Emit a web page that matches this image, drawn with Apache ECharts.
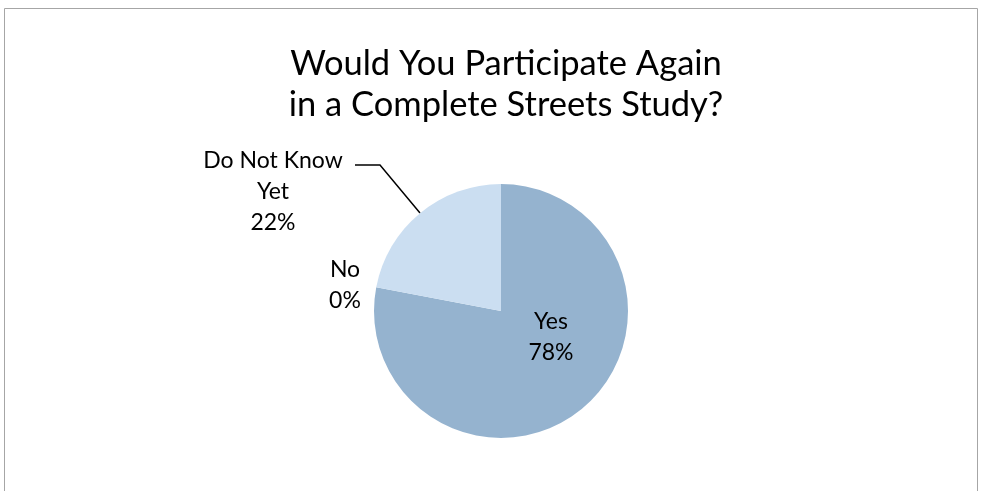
<!DOCTYPE html>
<html><head><meta charset="utf-8">
<script src="https://cdn.jsdelivr.net/npm/echarts@6/dist/echarts.min.js"></script>
<style>html,body{margin:0;padding:0;background:#fff}#c{width:982px;height:491px}</style>
</head><body><div id="c"></div>
<script>
const titleLines = ['Would You Participate Again', 'in a Complete Streets Study?'];
const categories = ['Yes', 'No', 'Do Not Know\nYet'];
const values = [78, 0, 22];
const colors = ['#95B3CF', '#CBDEF1', '#CBDEF1'];

const CX = 501, CY = 311, R = 127;
const FONT = 'Lato, "Open Sans", sans-serif';

const chart = echarts.init(document.getElementById('c'), null, {renderer: 'canvas'});
chart.setOption({
  animation: false,
  backgroundColor: '#fff',
  title: {
    text: titleLines.join('\n'),
    left: CX, textAlign: 'center', top: 38,
    textStyle: {fontFamily: FONT, fontWeight: 'normal', fontSize: 34.5, color: '#000', lineHeight: 41}
  },
  graphic: [{
    type: 'polyline',
    shape: {points: [[4.5, 491], [4.5, 8.5], [977.5, 8.5], [977.5, 491]]},
    style: {stroke: '#a6a6a6', lineWidth: 1, fill: null},
    silent: true
  }],
  series: [{
    type: 'pie',
    center: [CX, CY],
    radius: R,
    startAngle: 90,
    clockwise: true,
    avoidLabelOverlap: false,
    stillShowZeroSum: true,
    minShowLabelAngle: 0,
    itemStyle: {borderWidth: 0},
    label: {
      show: true,
      fontFamily: FONT, fontSize: 23, color: '#000', lineHeight: 31,
      align: 'center',
      formatter: p => p.name + '\n' + p.value + '%'
    },
    labelLine: {show: true, lineStyle: {color: '#000', width: 1.5}, length: 10, length2: 10},
    labelLayout: function (p) {
      if (p.dataIndex === 0) {
        return {x: CX + 50, y: CY + 26, align: 'center', verticalAlign: 'middle'};
      }
      if (p.dataIndex === 1) {
        return {x: CX - 156, y: CY - 26, align: 'center', verticalAlign: 'middle'};
      }
      return {
        x: CX - 228, y: CY - 119, align: 'center', verticalAlign: 'middle',
        labelLinePoints: [[CX - 146, CY - 146], [CX - 121, CY - 146], [CX - 81, CY - 98]]
      };
    },
    data: categories.map((c, i) => ({
      name: c, value: values[i],
      itemStyle: {color: colors[i]},
      label: {position: i === 0 ? 'inside' : 'outside'},
      labelLine: {show: i === 2}
    }))
  }]
});
</script></body></html>
